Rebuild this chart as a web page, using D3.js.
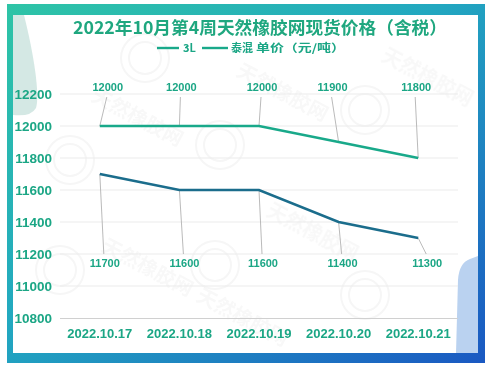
<!DOCTYPE html>
<html><head><meta charset="utf-8">
<script src="https://cdn.jsdelivr.net/npm/d3@7"></script>
<style>body{margin:0;background:#fff}svg{display:block}</style>
</head><body><svg id="c" width="493" height="368"></svg>
<script>
const categories = ["2022.10.17","2022.10.18","2022.10.19","2022.10.20","2022.10.21"];
const series3L = [12000, 12000, 12000, 11900, 11800];
const seriesTH = [11700, 11600, 11600, 11400, 11300];
const yTicks = [10800, 11000, 11200, 11400, 11600, 11800, 12000, 12200];
const seriesNames = ["3L", "泰混"];
const titleText = "2022年10月第4周天然橡胶网现货价格（含税）";
const unitText = "单价（元/吨）";
// label horizontal nudges (layout only)
const topDx = [8, 2, 3, -6, -2];
const botDx = [5, 5, 4, 4, 9];

const svg = d3.select("#c");
const defs = svg.append("defs");
const g1 = defs.append("linearGradient").attr("id","frame").attr("x1","0").attr("y1","0").attr("x2","1").attr("y2","1");
g1.append("stop").attr("offset","0").attr("stop-color","#2ec4a6");
g1.append("stop").attr("offset","0.45").attr("stop-color","#22a8c0");
g1.append("stop").attr("offset","1").attr("stop-color","#1a58c2");

svg.append("rect").attr("x",7).attr("y",4).attr("width",478).attr("height",359).attr("fill","url(#frame)");
svg.append("rect").attr("x",13).attr("y",15).attr("width",465).attr("height",338).attr("fill","#ffffff");
// decorative shapes
svg.append("path").attr("d","M13,15 L24,15 C34,55 40,95 36,108 Q31,117 13,115 Z").attr("fill","#b7d9d2").attr("opacity",0.6);
svg.append("path").attr("d","M478,256 L470,259 Q459,263 458,280 L456,353 L478,353 Z").attr("fill","#b2cdee").attr("opacity",0.9);

// faint watermarks
const wm = svg.append("g").attr("fill","#000").attr("opacity",0.03).attr("font-family","Noto Sans CJK SC").attr("font-weight","bold");
[[90,100],[235,75],[380,60],[100,250],[265,215],[195,300]].forEach(([x,y])=>{
  wm.append("text").attr("transform",`translate(${x},${y}) rotate(28)`).attr("font-size",20).text("天然橡胶网");
});
const wc = svg.append("g").attr("fill","none").attr("stroke","#000").attr("opacity",0.035).attr("stroke-width",2);
[[70,160],[220,145],[365,110],[60,270],[215,265],[145,58],[365,295]].forEach(([x,y])=>{
  wc.append("circle").attr("cx",x).attr("cy",y).attr("r",24);
  wc.append("circle").attr("cx",x).attr("cy",y).attr("r",16);
});

const left = 60, right = 458;
const x = d3.scaleBand().domain(categories).range([left, right]);
const y = d3.scaleLinear().domain([10800, 12200]).range([318, 94]);

const c1 = "#19a98a", c2 = "#1b6d8c", txt = "#1ba685";

// grid
svg.append("g").selectAll("line").data(yTicks.slice(1)).join("line")
  .attr("x1",left).attr("x2",right).attr("y1",d=>y(d)).attr("y2",d=>y(d))
  .attr("stroke","#ebebeb").attr("stroke-width",1);

// y axis
const ya = svg.append("g").attr("transform",`translate(${left-8},0)`)
  .call(d3.axisLeft(y).tickValues(yTicks).tickSize(0).tickPadding(0).tickFormat(d3.format("d")));
ya.select(".domain").remove();
ya.selectAll("text").attr("fill",txt).attr("font-family","Liberation Sans, Arial, sans-serif")
  .attr("font-weight","bold").attr("font-size",13.5).attr("dy","0.35em");

// x axis
const xa = svg.append("g").attr("transform",`translate(0,${y(10800)})`)
  .call(d3.axisBottom(x).tickSize(0).tickPadding(11));
xa.select(".domain").attr("stroke","#d0d0d0").attr("d",`M${left},0.5H${right}`);
xa.selectAll("text").attr("fill",txt).attr("font-family","Liberation Sans, Arial, sans-serif")
  .attr("font-weight","bold").attr("font-size",13);

const cx = d => x(d) + x.bandwidth()/2;
const line = d3.line().x((d,i)=>cx(categories[i])).y(d=>y(d));

// leaders + labels
function labels(vals, dx, rowY, edgeY){
  const g = svg.append("g");
  vals.forEach((v,i)=>{
    const px = cx(categories[i]), py = y(v), lx = px + dx[i];
    g.append("line").attr("x1",px).attr("y1",py).attr("x2",lx-1).attr("y2",edgeY)
      .attr("stroke","#a8a8a8").attr("stroke-width",0.8);
    g.append("text").attr("x",lx).attr("y",rowY).attr("dy","0.35em").attr("text-anchor","middle")
      .attr("fill",txt).attr("font-family","Liberation Sans, Arial, sans-serif")
      .attr("font-weight","bold").attr("font-size",11).text(v);
  });
}
labels(series3L, topDx, 87, 97);
labels(seriesTH, botDx, 263, 254);

svg.append("path").datum(series3L).attr("d",line).attr("fill","none").attr("stroke",c1).attr("stroke-width",2.6);
svg.append("path").datum(seriesTH).attr("d",line).attr("fill","none").attr("stroke",c2).attr("stroke-width",2.6);

// title
svg.append("text").attr("x",260).attr("y",28).attr("dy","0.35em").attr("text-anchor","middle")
  .attr("fill","#1fa77f").attr("font-family","Noto Sans CJK SC").attr("font-weight","bold")
  .attr("font-size",17.5).attr("textLength",374).attr("lengthAdjust","spacingAndGlyphs").text(titleText);

// legend
const lg = svg.append("g").attr("font-family","Noto Sans CJK SC").attr("font-weight","bold").attr("font-size",11).attr("fill",txt);
lg.append("line").attr("x1",157).attr("x2",179).attr("y1",48).attr("y2",48).attr("stroke",c1).attr("stroke-width",2.4);
lg.append("text").attr("x",183).attr("y",48).attr("dy","0.35em").text(seriesNames[0]);
lg.append("line").attr("x1",202).attr("x2",228).attr("y1",48).attr("y2",48).attr("stroke",c1).attr("stroke-width",2.4);
lg.append("text").attr("x",231).attr("y",48).attr("dy","0.35em").text(seriesNames[1]);
lg.append("text").attr("x",256).attr("y",48).attr("dy","0.35em").attr("textLength",89).attr("lengthAdjust","spacingAndGlyphs").text(unitText);
</script></body></html>
